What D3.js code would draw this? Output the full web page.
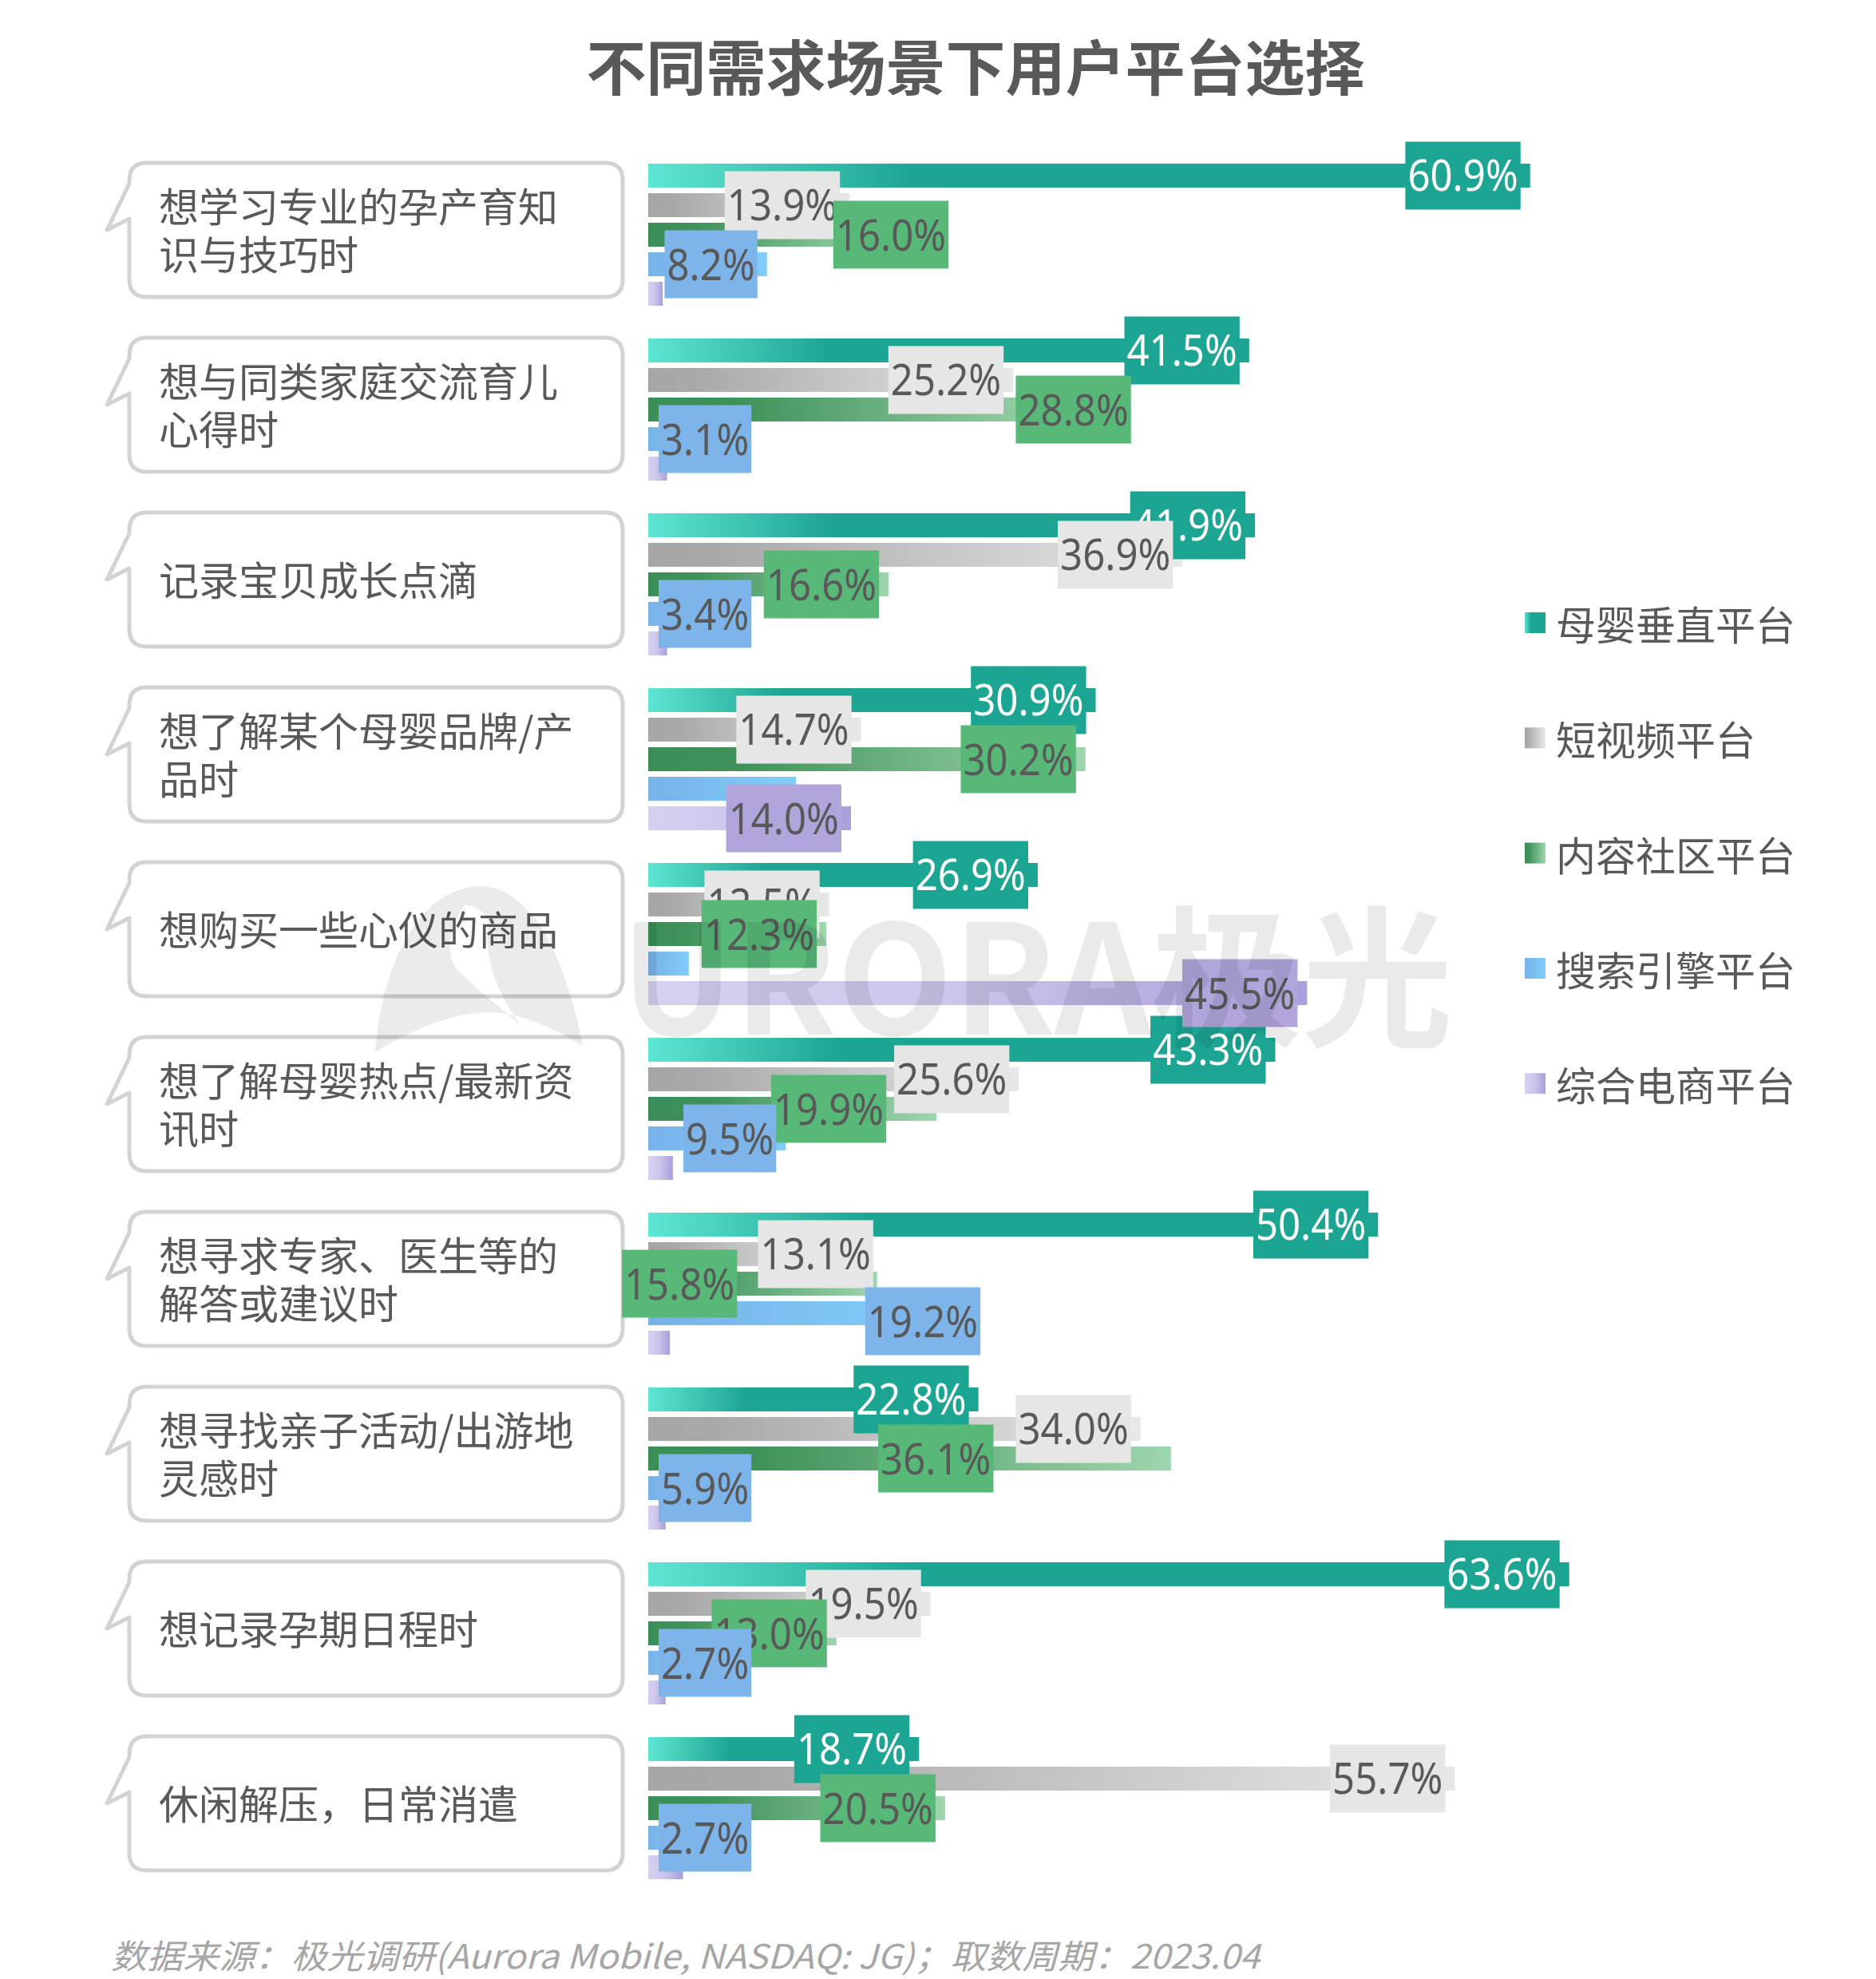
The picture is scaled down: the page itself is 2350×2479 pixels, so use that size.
<!DOCTYPE html>
<html><head><meta charset="utf-8">
<script src="https://cdn.jsdelivr.net/npm/d3@7/dist/d3.min.js"></script>
<style>body{margin:0;background:#fff}svg{display:block}</style>
</head><body>
<svg id="chart" width="2350" height="2479"></svg>
<script>
// ---------------- data ----------------
const title = "不同需求场景下用户平台选择";
const categories = [
  "想学习专业的孕产育知识与技巧时",
  "想与同类家庭交流育儿心得时",
  "记录宝贝成长点滴",
  "想了解某个母婴品牌/产品时",
  "想购买一些心仪的商品",
  "想了解母婴热点/最新资讯时",
  "想寻求专家、医生等的解答或建议时",
  "想寻找亲子活动/出游地灵感时",
  "想记录孕期日程时",
  "休闲解压，日常消遣"
];
const seriesNames = ["母婴垂直平台","短视频平台","内容社区平台","搜索引擎平台","综合电商平台"];
const verticalPlatform = [60.9,41.5,41.9,30.9,26.9,43.3,50.4,22.8,63.6,18.7];
const shortVideo       = [13.9,25.2,36.9,14.7,12.5,25.6,13.1,34.0,19.5,55.7];
const community        = [16.0,28.8,16.6,30.2,12.3,19.9,15.8,36.1,13.0,20.5];
const searchEngine     = [8.2,3.1,3.4,10.2,2.8,9.5,19.2,5.9,2.7,2.7];
const ecommerce        = [1.0,1.3,1.3,14.0,45.5,1.7,1.5,1.2,1.2,2.4];
const seriesValues = [verticalPlatform, shortVideo, community, searchEngine, ecommerce];
// labels hidden in the original: [series, category]
const hiddenLabels = [[3,3],[3,4],[4,0],[4,1],[4,2],[4,5],[4,6],[4,7],[4,8],[4,9]];
// hand-placed labels in the original: [series, category, shift in percentage points, vertical nudge]
const labelShifts = [[2,0,5.4,0],[2,1,5.2,0],[2,5,-2.8,0],[1,6,3.1,0],[2,6,-9.0,0],[3,6,4.4,10],[2,7,-11.6,0]];
const source = "数据来源：极光调研(Aurora Mobile, NASDAQ: JG)；取数周期：2023.04";

// ---------------- styles ----------------
const gradStops = [
  [[0,"#5fe6d3"],[0.3,"#1ca592"],[1,"#1ca592"]],
  [[0,"#a6a6a6"],[0.12,"#a8a8a8"],[1,"#e8e8e8"]],
  [[0,"#3b8e57"],[0.2,"#3e9159"],[1,"#9ed6ae"]],
  [[0,"#78b2e8"],[1,"#80cdfb"]],
  [[0,"#d6d1f0"],[0.45,"#cdc6eb"],[1,"#aa9edb"]]
];
const boxColors = ["#1ca592","#e6e6e6","#57b878","#7db4ea","#b1a5dc"];
const boxText   = ["#ffffff","#595959","#595959","#595959","#595959"];
const textColor = "#595959";
const cjk = "'Noto Sans CJK SC','Noto Sans',sans-serif";

const svg = d3.select("#chart");
const defs = svg.append("defs");
gradStops.forEach((stops,i)=>{
  const g = defs.append("linearGradient").attr("id","g"+i).attr("x1",0).attr("x2",1).attr("y1",0).attr("y2",0);
  stops.forEach(s=>g.append("stop").attr("offset",s[0]).attr("stop-color",s[1]));
});

// ---------------- scales ----------------
const x = d3.scaleLinear().domain([0,100]).range([812, 812+1814]);
const y0 = d3.scaleBand().domain(categories).range([205, 205+219*10]);
const y1 = d3.scaleBand().domain(d3.range(seriesNames.length)).range([0,178]).paddingInner(0.19);

// ---------------- title ----------------
svg.append("text").attr("x",1222).attr("y",80).attr("text-anchor","middle")
  .attr("dominant-baseline","central").style("font-family",cjk).style("font-weight",700)
  .style("font-size","75px").attr("fill",textColor).text(title);

// ---------------- bubbles ----------------
const bL = 162, bR = 780, bH = 168, r = 22;
function bubblePath(T){
  return `M${bL+r},${T} H${bR-r} Q${bR},${T} ${bR},${T+r} V${T+bH-r} Q${bR},${T+bH} ${bR-r},${T+bH} `+
         `H${bL+r} Q${bL},${T+bH} ${bL},${T+bH-r} V${T+70} L${bL-28},${T+84} L${bL},${T+26} V${T+r} Q${bL},${T} ${bL+r},${T} Z`;
}
const bubbles = svg.append("g");
categories.forEach(c=>{
  const T = y0(c)-1;
  bubbles.append("path").attr("d",bubblePath(T)).attr("fill","#fff")
    .attr("stroke","#d3d3d3").attr("stroke-width",5).attr("stroke-linejoin","round");
  const t = bubbles.append("text").style("font-family",cjk).style("font-size","50px").attr("fill",textColor);
  const lines=[]; let cur="";
  const probe = t.append("tspan");
  for(const ch of c){
    probe.text(cur+ch);
    if(probe.node().getComputedTextLength()>530 && cur){ lines.push(cur); cur=ch; }
    else cur+=ch;
  }
  lines.push(cur); probe.remove();
  const cy = T + bH/2 - 2, lh = 60;
  lines.forEach((ln,i)=>{
    t.append("tspan").attr("x",199).attr("y",cy+(i-(lines.length-1)/2)*lh)
      .attr("dominant-baseline","central").text(ln);
  });
});

// ---------------- bars ----------------
const bars = svg.append("g");
seriesValues.forEach((vals,s)=>{
  bars.selectAll(null).data(vals).join("rect")
    .attr("x",x(0)).attr("y",(d,i)=>y0(categories[i])+y1(s))
    .attr("width",d=>x(d)-x(0)).attr("height",y1.bandwidth())
    .attr("fill",`url(#g${s})`);
});

// ---------------- value labels ----------------
const labels = svg.append("g");
const hidden = new Set(hiddenLabels.map(d=>d.join("-")));
const shifts = new Map(labelShifts.map(d=>[d[0]+"-"+d[1], [d[2],d[3]]]));
seriesValues.forEach((vals,s)=>{
  vals.forEach((v,i)=>{
    const key = s+"-"+i;
    if(hidden.has(key)) return;
    const g = labels.append("g");
    const sh = shifts.has(key) ? shifts.get(key) : [0,0];
    const cy = y0(categories[i])+y1(s)+y1.bandwidth()/2 + sh[1];
    const rect = g.append("rect");
    const txt = g.append("text").style("font-family","'Noto Sans',sans-serif").style("font-size","54px")
      .attr("fill",boxText[s]).attr("text-anchor","middle").text(v.toFixed(1)+"%");
    const w0 = txt.node().getComputedTextLength();
    const tw = w0*0.91;
    txt.attr("textLength",tw).attr("lengthAdjust","spacingAndGlyphs");
    const bw = tw+6, bh = 85;
    let right = x(v+sh[0])-12;
    let left = right-bw;
    if(!shifts.has(key) && left < x(0)+13){ left = x(0)+13; }
    rect.attr("x",left).attr("y",cy-bh/2).attr("width",bw).attr("height",bh).attr("fill",boxColors[s]);
    txt.attr("x",left+bw/2).attr("y",cy+19.5);
  });
});

// ---------------- legend ----------------
const legend = svg.append("g");
seriesNames.forEach((n,s)=>{
  const cy = 780 + s*144.3;
  legend.append("rect").attr("x",1910).attr("y",cy-13).attr("width",26).attr("height",26).attr("fill",`url(#g${s})`);
  legend.append("text").attr("x",1949).attr("y",cy).attr("dominant-baseline","central")
    .style("font-family",cjk).style("font-size","50px").attr("fill",textColor).text(n);
});

// ---------------- watermark ----------------
const wm = svg.append("g").attr("opacity",0.08).attr("fill","#000");
wm.append("path").attr("fill-rule","evenodd").attr("d",
  "M470,1318 C478,1200 530,1112 600,1110 C665,1110 708,1195 730,1310 C690,1286 650,1268 610,1268 C560,1270 515,1291 470,1318 Z "+
  "M582,1134 C560,1164 558,1200 575,1217 C600,1243 630,1263 652,1285 C618,1235 606,1195 612,1155 C606,1140 596,1134 582,1134 Z");
wm.append("text").attr("x",778).attr("y",1296).attr("textLength",1042).attr("lengthAdjust","spacingAndGlyphs")
  .style("font-family","'Noto Sans CJK SC','Open Sans',sans-serif").style("font-weight",700)
  .style("font-size","190px").text("URORA极光");

// ---------------- footer ----------------
svg.append("text").attr("x",139).attr("y",2447).attr("dominant-baseline","central")
  .attr("textLength",1439).attr("lengthAdjust","spacingAndGlyphs")
  .style("font-family",cjk).style("font-style","italic").style("font-size","42px")
  .attr("fill","#a6a6a6").text(source);
</script>
</body></html>
